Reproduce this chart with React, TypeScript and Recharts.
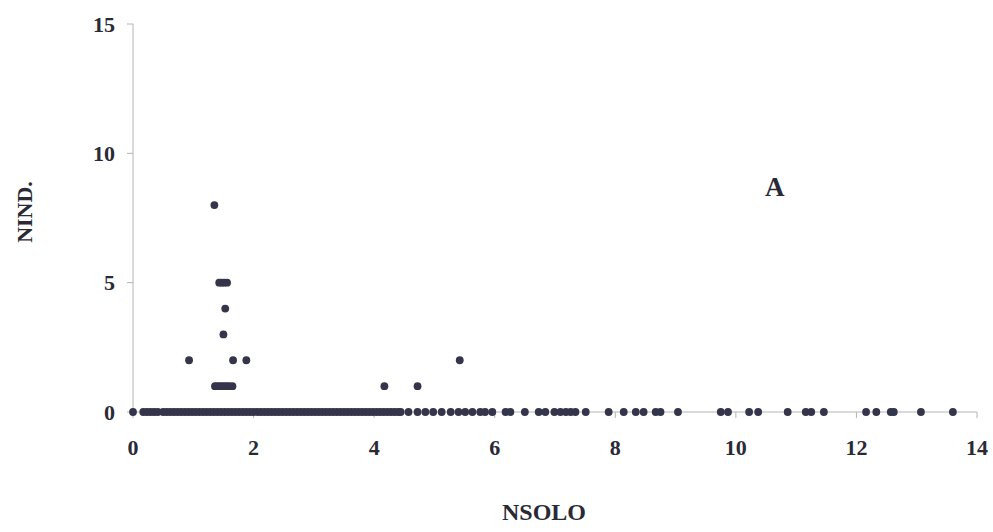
import { ScatterChart, Scatter, XAxis, YAxis } from 'recharts'

// NSOLO values of the samples with NIND. = 0
const zeroNsolo = [
  0, 0.17, 0.23, 0.29, 0.35, 0.41, 0.5, 0.56, 0.62, 0.68, 0.74, 0.8, 0.86, 0.92, 0.98,
  1.04, 1.1, 1.16, 1.22, 1.28, 1.34, 1.4, 1.46, 1.52, 1.58, 1.64, 1.7, 1.76, 1.82, 1.88,
  1.94, 2.0, 2.06, 2.12, 2.18, 2.24, 2.3, 2.36, 2.42, 2.48, 2.54, 2.6, 2.66, 2.72, 2.78,
  2.84, 2.9, 2.96, 3.02, 3.08, 3.14, 3.2, 3.26, 3.32, 3.38, 3.44, 3.5, 3.56, 3.62, 3.68,
  3.74, 3.8, 3.86, 3.92, 3.98, 4.04, 4.1, 4.16, 4.22, 4.28, 4.34, 4.4, 4.44, 4.57, 4.72,
  4.85, 4.98, 5.12, 5.27, 5.4, 5.51, 5.63, 5.76, 5.84, 5.96, 6.18, 6.26, 6.5, 6.73, 6.84,
  6.99, 7.09, 7.18, 7.26, 7.34, 7.51, 7.89, 8.14, 8.34, 8.47, 8.67, 8.75, 9.04, 9.75,
  9.87, 10.22, 10.37, 10.86, 11.16, 11.25, 11.46, 12.16, 12.33, 12.57, 12.62, 13.07, 13.6,
]

// samples with NIND. > 0
const posNsolo = [
  1.35, 1.43, 1.47, 1.51, 1.56, 1.53, 1.5, 0.93, 1.66, 1.88, 5.42,
  1.36, 1.4, 1.44, 1.48, 1.52, 1.56, 1.6, 1.65, 4.17, 4.72,
]
const posNind = [8, 5, 5, 5, 5, 4, 3, 2, 2, 2, 2, 1, 1, 1, 1, 1, 1, 1, 1, 1, 1]

const xTicks = [0, 2, 4, 6, 8, 10, 12, 14]
const yTicks = [0, 5, 10, 15]

const data = [
  ...zeroNsolo.map((x) => ({ nsolo: x, nind: 0 })),
  ...posNsolo.map((x, i) => ({ nsolo: x, nind: posNind[i] })),
]

const font = '"Liberation Serif", "Times New Roman", serif'
const dotColor = '#34344a'
const axisColor = '#b4b4b4'
const textColor = '#2a2a35'

const Dot = (props: any) => <circle cx={props.cx} cy={props.cy} r={3.9} fill={dotColor} />

export default function App() {
  return (
    <div style={{ position: 'absolute', left: 0, top: 0, width: 993, height: 532, background: '#fff', fontFamily: font }}>
      <ScatterChart width={993} height={532} margin={{ top: 24, right: 16, bottom: 60, left: 0 }}>
        <XAxis
          type="number"
          dataKey="nsolo"
          domain={[0, 14]}
          ticks={xTicks}
          height={60}
          stroke={axisColor}
          tickSize={6}
          tickMargin={21}
          tick={{ fill: textColor, fontSize: 22, fontWeight: 'bold', fontFamily: font }}
        />
        <YAxis
          type="number"
          dataKey="nind"
          domain={[0, 15]}
          ticks={yTicks}
          width={133}
          stroke={axisColor}
          tickSize={6}
          tickMargin={12}
          tick={{ fill: textColor, fontSize: 22, fontWeight: 'bold', fontFamily: font }}
        />
        <Scatter data={data} shape={<Dot />} isAnimationActive={false} />
      </ScatterChart>
      <div style={{ position: 'absolute', left: 0, width: 1088, top: 499, textAlign: 'center', fontSize: 24, fontWeight: 'bold', color: textColor }}>
        NSOLO
      </div>
      <div
        style={{
          position: 'absolute',
          left: 25,
          top: 212,
          transform: 'translate(-50%, -50%) rotate(-90deg)',
          fontSize: 22,
          fontWeight: 'bold',
          color: textColor,
          whiteSpace: 'nowrap',
        }}
      >
        NIND.
      </div>
      <div style={{ position: 'absolute', left: 765, top: 172, fontSize: 27, fontWeight: 'bold', color: textColor }}>A</div>
    </div>
  )
}
